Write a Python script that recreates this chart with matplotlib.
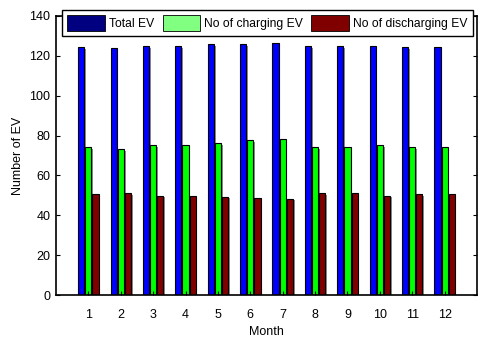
import matplotlib
matplotlib.use("Agg")
import matplotlib.pyplot as plt
import matplotlib.patheffects as pe
from matplotlib.patches import Patch
import numpy as np

plt.rcParams['font.family'] = ['Liberation Sans', 'DejaVu Sans']

months = [1, 2, 3, 4, 5, 6, 7, 8, 9, 10, 11, 12]
total_ev = [124.5, 124, 125, 125, 125.8, 125.8, 126.3, 125, 125, 125, 124.5, 124.5]
charging_ev = [74.3, 73.3, 75.3, 75.3, 76.3, 77.6, 78.2, 74.3, 74.3, 75.3, 74.3, 74.3]
discharging_ev = [50.5, 51, 49.8, 49.8, 49.3, 48.8, 48.3, 51, 51, 49.8, 50.5, 50.5]
labels = ['Total EV', 'No of charging EV', 'No of discharging EV']

fig = plt.figure(figsize=(4.85, 3.41), dpi=100)
ax = fig.add_axes([56/485, 1-295/341, 421/485, 279/341])

x = np.array(months)
w = 0.19
shadow = [pe.SimplePatchShadow(offset=(1.2, -1.2), shadow_rgbFace='0.55', alpha=1), pe.Normal()]
for off, vals, col in [(-0.22, total_ev, '#0000ff'), (0, charging_ev, '#00ff00'), (0.22, discharging_ev, '#800000')]:
    bars = ax.bar(x + off, vals, w, color=col, edgecolor='black', linewidth=0.8)
    for b in bars:
        b.set_path_effects(shadow)

ax.set_xlim(0, 13)
ax.set_ylim(0, 140)
ax.set_xticks(months)
ax.set_yticks(range(0, 141, 20))
ax.tick_params(direction='in', length=3, labelsize=9, top=False, right=True)
ax.tick_params(axis='x', pad=10)
ax.tick_params(axis='y', pad=4)
for s in ax.spines.values():
    s.set_linewidth(1.2)
ax.set_xlabel('Month', fontsize=9, labelpad=4)
ax.set_ylabel('Number of EV', fontsize=9, labelpad=4)

handles = [Patch(facecolor='#000080', edgecolor='black', linewidth=0.6),
           Patch(facecolor='#80ff80', edgecolor='black', linewidth=0.6),
           Patch(facecolor='#800000', edgecolor='black', linewidth=0.6)]
leg = fig.legend(handles, labels, loc='upper left', ncol=3,
                 bbox_to_anchor=(62/485, 1-10/341),
                 borderaxespad=0, fontsize=8.7, handlelength=3.1, handleheight=1.55,
                 handletextpad=0.33, columnspacing=0.7, fancybox=False,
                 framealpha=1, edgecolor='black', borderpad=0.45)
leg.get_frame().set_linewidth(1.0)

fig.savefig('out.png', dpi=100)
